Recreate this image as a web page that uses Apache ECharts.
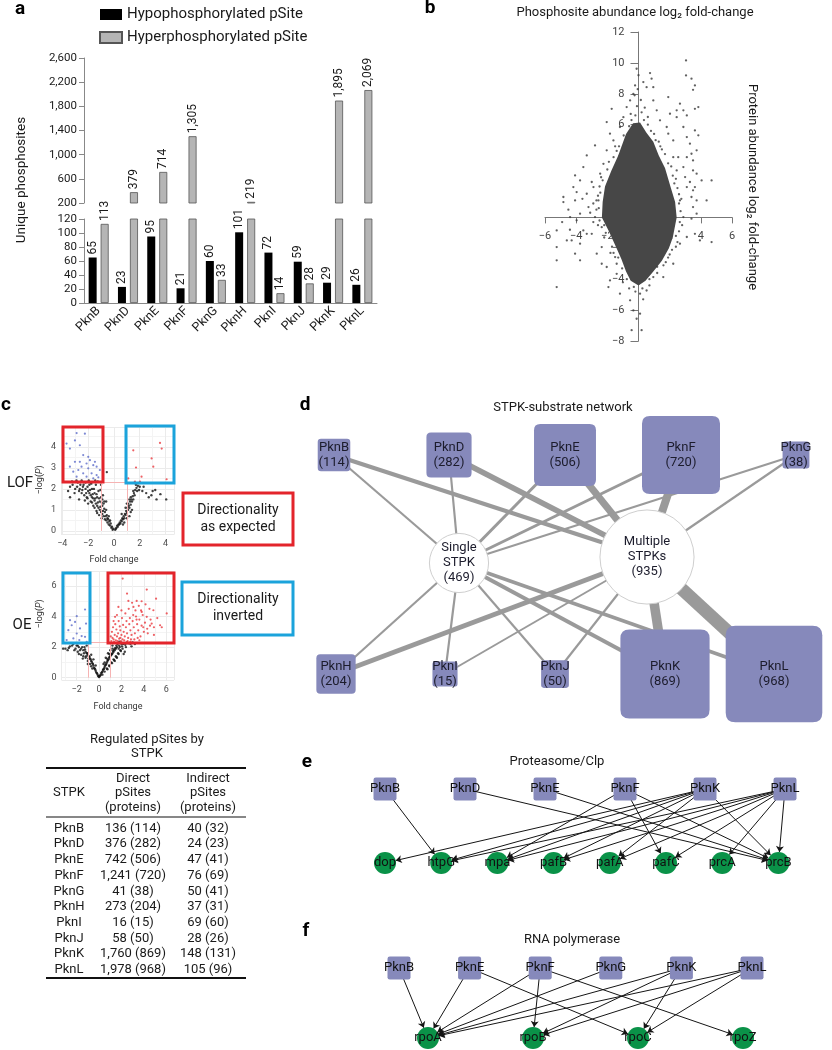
<!DOCTYPE html>
<html>
<head>
<meta charset="utf-8">
<script src="https://cdn.jsdelivr.net/npm/echarts@6/dist/echarts.min.js"></script>
<style>
  html, body { margin: 0; padding: 0; background: #fff; }
  #chart { width: 832px; height: 1050px; }
</style>
</head>
<body>
<div id="chart"></div>
<script>
// ---- panel a: regulated pSites per kinase
var kinases = ['PknB', 'PknD', 'PknE', 'PknF', 'PknG', 'PknH', 'PknI', 'PknJ', 'PknK', 'PknL'];
var hypoSites = [65, 23, 95, 21, 60, 101, 72, 59, 29, 26];
var hyperSites = [113, 379, 714, 1305, 33, 219, 14, 28, 1895, 2069];

// ---- panel b: dense core outline + scattered points (log2 FC)
var coreOutline = [[-0.35, 6.1], [0.1, 6.15], [0.5, 5.5], [0.95, 4.9], [1.3, 4.0], [1.7, 3.2], [2.05, 2.0], [2.35, 1.0],
  [2.45, 0], [2.2, -1.3], [1.95, -2.0], [1.5, -2.8], [0.95, -3.5], [0.45, -4.1], [0, -4.4], [-0.5, -4.1], [-0.8, -3.5],
  [-1.1, -2.7], [-1.45, -1.9], [-1.9, -0.9], [-2.35, 0], [-2.3, 1.0], [-2.15, 2.0], [-1.75, 3.0], [-1.3, 4.0], [-0.8, 5.4]];
var scatterPoints = [[3.05, 10.16], [3.05, 9.19], [3.4, 8.98], [3.62, 8.54], [3.5, 8.26], [-0.12, 9.62], [0, 9.2], [0.74, 9.34],
  [0.84, 8.98], [0.31, 8.76], [-0.22, 8.54], [-0.33, 8.0], [0.52, 8.43], [0.95, 8.43], [1.91, 7.79], [2.66, 7.36], [2.45, 6.93],
  [2.88, 6.93], [3.1, 6.6], [3.62, 7.03], [3.84, 7.14], [-1.72, 7.03], [-2.04, 6.17], [-1.83, 5.42], [-2.79, 4.66], [-3.32, 4.01],
  [-3.54, 3.26], [-4.07, 2.72], [-3.75, 2.39], [-4.18, 1.96], [-4.82, 1.32], [-4.82, 0.99], [-4.07, 1.1], [-3.97, 1.64],
  [-3.32, 1.53], [-2.89, 1.96], [-2.46, 2.83], [-2.57, 1.1], [-3.21, 0.67], [-3.75, 0.24], [-4.39, 0.02], [-5.25, -0.84],
  [-5.25, -1.92], [-5.25, -2.78], [-5.25, -4.51], [-4.6, -1.49], [-3.75, -1.7], [-3.75, -2.78], [-3.32, -1.06], [-2.68, -2.35],
  [-2.36, -1.92], [-2.04, -3.21], [-1.83, -4.08], [-1.93, -4.51], [-1.19, -4.94], [-0.54, -5.37], [-0.33, -6.02], [0.1, -6.23],
  [-0.44, -7.3], [0.2, -7.3], [-0.12, -6.56], [0.1, -4.94], [0.52, -4.73], [0.95, -3.86], [1.59, -3.86], [2.23, -3.0],
  [2.66, -1.7], [3.1, -1.27], [3.62, -1.06], [3.94, -1.49], [4.69, -1.6], [2.88, 0.02], [3.4, -0.08], [3.73, 0.24], [3.73, 1.1],
  [3.5, 1.75], [3.3, 2.29], [3.73, 2.83], [4.05, 2.39], [4.37, 1.1], [4.69, 2.39], [3.5, 3.69], [3.73, 4.34], [3.3, 4.77],
  [3.84, 5.31], [3.1, 5.2], [2.88, 5.85], [2.45, 6.49], [2.23, 4.98], [2.55, 3.9], [2.88, 3.26], [3.1, 1.96], [2.66, 1.1],
  [3.5, 0.67], [3.4, 1.32], [3.62, 1.96], [3.5, 3.04], [3.4, 4.12], [3.62, 5.63], [3.1, 3.9], [2.99, 2.61], [-2.36, -0.63],
  [-2.79, 0.02], [-3.0, -1.06], [-3.54, -0.84], [-3.97, -0.19], [-4.29, -1.49], [-4.07, -2.35], [-2.36, -3.0], [-1.5, -2.57],
  [-1.4, -3.65], [-3.0, 2.29], [-2.25, 3.47], [-2.04, 4.34], [-1.61, 4.98], [-1.19, 5.85], [-0.97, 6.49], [-0.76, 7.14],
  [-0.54, 7.57], [0.95, 7.57], [1.17, 6.93], [1.38, 6.28], [1.81, 5.85], [2.02, 6.71], [1.91, 5.42], [2.23, 3.9], [2.45, 3.04],
  [-0.2, 6.6], [0.2, 6.8], [-0.1, 7.2], [0.4, 7.1], [0.6, 6.5], [-0.5, 6.7], [0.15, 7.6], [-0.25, 7.9], [-0.05, 8.3],
  [0.3, -5.3], [-0.2, -4.8], [-0.6, -4.6], [0.7, -4.4], [-1.0, -4.2], [1.2, -3.2], [1.6, -3.1], [2.0, -2.4], [2.4, -1.9],
  [2.6, -0.9], [2.7, 0.4], [2.6, 1.5], [2.4, 2.5], [2.1, 3.3], [1.7, 4.1], [1.3, 4.9], [-1.5, 4.6], [-1.9, 3.6], [-2.4, 2.6],
  [-2.6, 1.4], [-2.7, 0.5], [-2.6, -0.5], [-2.2, -1.3], [-1.8, -2.3], [-1.4, -3.0], [-2.9, -0.3], [-3.1, 0.3], [-2.9, 0.9],
  [-4.9, -0.3], [-4.5, 0.5], [-3.6, 1.2], [-4.4, -0.8],
  [0.6, 6.0], [0.8, 5.6], [1.1, 5.0], [1.5, 4.4], [1.9, 3.5], [2.2, 2.7], [2.5, 1.9], [2.6, 0.9], [2.65, -0.3], [2.4, -1.2],
  [2.15, -2.1], [1.75, -2.9], [1.2, -3.6], [0.7, -4.0], [0.25, -4.6], [-0.3, -4.5], [-0.75, -4.0], [-1.05, -3.3],
  [-1.3, -2.6], [-1.7, -1.9], [-2.1, -1.0], [-2.5, -0.2], [-2.55, 0.6], [-2.45, 1.6], [-2.3, 2.4], [-2.0, 3.1], [-1.6, 3.9],
  [-1.25, 4.6], [-0.95, 5.3], [-0.6, 5.9], [-0.45, 6.3], [0.35, 6.3], [1.0, 5.4], [1.4, 4.6], [2.3, 2.2], [2.75, 1.2],
  [2.8, -0.5], [2.5, -1.6], [1.9, -2.6], [-1.6, -2.3], [-2.2, -0.5], [-2.7, 1.1], [-2.5, 2.0], [-1.4, 4.3]];

// ---- panel c: volcano plots (fold change, -log P)
var lofOther = [[-0.1, 0.05], [-0.2, 0.15], [-0.3, 0.25], [-0.4, 0.3], [-0.5, 0.4], [-0.6, 0.5], [-0.7, 0.55], [-0.8, 0.7],
  [-0.9, 0.8], [-1.0, 0.9], [-1.1, 1.0], [-1.2, 1.1], [-1.3, 1.2], [-1.4, 1.3], [-1.5, 1.45], [-1.6, 1.55], [-1.7, 1.6],
  [-1.8, 1.7], [-1.9, 1.8], [-2.0, 1.9], [-2.2, 2.0], [-2.4, 2.1], [-2.6, 2.2], [-2.8, 2.3], [-0.5, 0.6], [-0.7, 0.9],
  [-0.9, 1.2], [-1.1, 1.4], [-1.3, 1.6], [-1.5, 1.8], [-1.7, 2.0], [-1.9, 2.2], [-2.1, 1.6], [-2.3, 1.7], [-2.5, 1.8],
  [-2.7, 1.9], [-3.0, 2.0], [-3.2, 2.2], [-1.2, 1.9], [-1.4, 2.2], [-1.0, 1.6], [-0.8, 1.3], [-0.6, 1.0], [-0.4, 0.7],
  [-1.6, 1.2], [-1.8, 1.4], [-2.0, 1.3], [-2.2, 2.3], [-2.5, 2.4], [-1.0, 2.2], [-0.6, 1.4], [-0.3, 0.5], [-1.8, 2.3],
  [-2.9, 2.4], [-3.4, 2.1], [-0.55, 2.8], [-1.15, 0.75], [-1.35, 0.95], [-0.95, 0.6], [-2.7, 1.5], [-3.4, 1.6],
  [-0.35, 0.45], [-0.45, 0.55], [-0.55, 0.75], [-0.65, 0.7], [-0.75, 1.05], [-0.85, 0.95], [-0.95, 1.35], [-1.05, 1.15],
  [-1.15, 1.55], [-1.25, 1.35], [-1.35, 1.75], [-1.45, 1.55], [-1.55, 2.0], [-1.65, 1.75], [-1.75, 2.25], [-1.85, 1.95],
  [-1.95, 2.4], [-2.05, 2.1], [-2.15, 1.8], [-2.35, 2.2], [-2.45, 1.95], [-2.65, 2.0], [-2.85, 2.1], [-3.05, 1.8],
  [-3.25, 2.35], [-3.55, 1.9], [-0.25, 0.35], [-0.15, 0.2], [-0.05, 0.1], [-1.05, 1.95], [-1.25, 2.35], [-0.85, 1.7],
  [-0.75, 1.4], [-1.45, 2.4], [-2.05, 1.55], [-2.25, 1.45], [-1.7, 1.35], [-1.5, 1.1], [-1.3, 0.85], [-0.9, 1.5],
  [0.1, 0.05], [0.2, 0.15], [0.3, 0.2], [0.4, 0.3], [0.5, 0.35], [0.6, 0.45], [0.7, 0.55], [0.8, 0.6], [0.9, 0.75],
  [1.0, 0.85], [1.1, 1.0], [1.2, 1.1], [1.3, 1.25], [1.4, 1.4], [1.5, 1.5], [1.6, 1.7], [1.8, 1.9], [2.0, 2.1], [0.9, 1.1],
  [1.1, 1.3], [1.3, 1.6], [1.5, 1.9], [1.7, 2.2], [2.2, 1.9], [2.5, 1.8], [2.9, 1.7], [3.3, 1.5], [3.6, 1.75], [1.2, 0.7],
  [0.7, 0.3], [1.4, 1.0], [2.0, 2.3], [0.6, 0.8], [1.0, 1.3], [1.2, 1.5], [3.2, 1.95], [4.05, 1.5],
  [0.15, 0.1], [0.25, 0.25], [0.35, 0.3], [0.45, 0.4], [0.55, 0.5], [0.65, 0.6], [0.75, 0.7], [0.85, 0.8], [0.95, 0.95],
  [1.05, 1.1], [1.15, 1.2], [1.25, 1.4], [1.35, 1.5], [1.45, 1.65], [1.55, 1.8], [1.65, 1.95], [1.75, 2.05], [1.85, 2.15],
  [1.95, 1.95], [2.3, 2.1], [2.7, 1.6], [3.0, 1.9], [1.6, 2.3], [0.8, 0.4], [1.0, 0.6], [1.3, 0.9]];
var lofDown = [[-2.89, 4.66], [-2.25, 4.63], [-3.67, 4.16], [-3.41, 3.92], [-3.02, 4.31], [-2.64, 4.08], [-2.38, 3.61],
  [-1.99, 3.53], [-1.86, 3.37], [-2.64, 3.29], [-2.12, 3.21], [-1.6, 3.13], [-1.34, 3.06], [-1.09, 2.9], [-3.41, 3.06],
  [-3.15, 2.82], [-2.76, 2.9], [-2.38, 2.74], [-1.73, 2.74], [-1.34, 2.66], [-2.89, 2.58], [-2.12, 2.58], [-1.6, 2.5],
  [-1.21, 2.55], [-2.51, 3.06], [-1.99, 2.98], [-1.47, 3.29], [-3.02, 3.29]];
var lofUp = [[3.57, 4.19], [3.7, 3.92], [1.5, 3.84], [2.92, 3.45], [3.05, 3.06], [1.71, 3.02], [2.14, 2.58], [2.02, 2.35],
  [1.63, 2.35], [4.08, 2.46], [1.11, 2.5]];
var oeOther = [[0, 0.05], [-0.1, 0.15], [-0.2, 0.3], [-0.3, 0.45], [-0.4, 0.6], [-0.5, 0.8], [-0.6, 0.95], [-0.7, 1.1],
  [-0.8, 1.25], [-0.9, 1.4], [-1.0, 1.5], [-1.1, 1.6], [-1.2, 1.7], [-1.4, 1.8], [-1.6, 1.9], [-1.8, 2.0], [-2.0, 2.1],
  [-2.3, 2.2], [-2.6, 2.05], [-3.0, 1.9], [-0.6, 0.6], [-0.8, 0.9], [-1.0, 1.1], [-1.2, 1.3], [-1.4, 1.4], [-1.6, 1.5],
  [-1.3, 2.0], [-1.1, 2.1], [-0.5, 1.2], [-0.3, 0.8], [-1.9, 1.7], [-2.2, 1.8], [-0.7, 1.5], [-3.2, 1.9], [-2.8, 1.8],
  [-0.05, 0.1], [-0.15, 0.25], [-0.25, 0.35], [-0.35, 0.55], [-0.45, 0.65], [-0.55, 0.9], [-0.65, 1.05], [-0.75, 1.2],
  [-0.85, 1.35], [-0.95, 1.25], [-1.05, 1.6], [-1.15, 1.4], [-1.25, 1.85], [-1.35, 1.6], [-1.5, 2.0], [-1.7, 1.8],
  [-1.9, 2.1], [-2.1, 1.9], [-2.4, 2.1], [-2.7, 1.95], [-1.8, 1.55], [-1.45, 1.25], [-1.0, 0.9], [-0.7, 0.75],
  [0.1, 0.15], [0.2, 0.3], [0.3, 0.4], [0.4, 0.55], [0.5, 0.7], [0.6, 0.85], [0.7, 1.0], [0.8, 1.15], [0.9, 1.3], [1.0, 1.4],
  [1.1, 1.5], [1.2, 1.6], [1.3, 1.7], [1.4, 1.8], [1.5, 1.9], [1.6, 2.0], [1.8, 2.1], [2.0, 2.2], [2.2, 2.25], [2.5, 2.3],
  [0.5, 0.4], [0.7, 0.6], [0.9, 0.8], [1.1, 1.0], [1.3, 1.2], [1.5, 1.4], [1.7, 1.6], [1.9, 1.8], [2.1, 1.9], [1.0, 1.8],
  [1.2, 2.1], [0.8, 1.6], [0.6, 1.3], [2.4, 2.0], [2.8, 2.2], [1.6, 1.3], [1.4, 1.1], [0.3, 0.2], [3.0, 2.3], [1.8, 2.35],
  [0.4, 0.9], [2.3, 1.7],
  [0.05, 0.1], [0.15, 0.2], [0.25, 0.35], [0.35, 0.5], [0.45, 0.6], [0.55, 0.8], [0.65, 0.9], [0.75, 1.1], [0.85, 1.2],
  [0.95, 1.35], [1.05, 1.5], [1.15, 1.55], [1.25, 1.75], [1.35, 1.85], [1.45, 1.95], [1.55, 2.1], [1.65, 2.2], [1.75, 1.9],
  [1.85, 2.0], [1.95, 2.3], [2.05, 2.05], [2.15, 2.2], [2.35, 2.15], [2.6, 2.25], [2.9, 2.05], [3.2, 2.2], [0.75, 0.55],
  [0.95, 0.75], [1.15, 0.95], [1.35, 1.15], [1.55, 1.35], [1.75, 1.55], [1.95, 1.75], [2.2, 1.55], [1.2, 1.9], [0.9, 1.55],
  [0.7, 1.25], [0.5, 1.0]];
var oeDown = [[-1.25, 4.46], [-1.99, 4.02], [-2.59, 3.76], [-2.14, 3.65], [-2.44, 3.43], [-1.16, 3.54], [-1.7, 3.22],
  [-2.74, 3.11], [-1.99, 2.89], [-1.55, 2.72], [-1.25, 2.67], [-2.29, 2.57], [-2.89, 2.46], [-1.76, 2.46], [-1.1, 2.35]];
var oeUp = [[2.11, 6.48], [4.26, 5.76], [5.09, 5.17], [6.04, 4.2], [5.45, 3.43], [4.7, 3.54], [2.62, 5.02], [3.36, 5.02],
  [3.07, 4.63], [1.73, 4.63], [1.43, 3.98], [3.81, 4.3], [4.26, 3.98], [4.85, 4.41], [1.1, 2.4], [1.2, 2.6], [1.3, 2.5],
  [1.4, 2.8], [1.5, 2.45], [1.6, 2.7], [1.7, 2.9], [1.8, 2.55], [1.9, 3.1], [2.0, 2.8], [2.1, 2.5], [2.2, 3.0], [2.3, 2.7],
  [2.4, 3.3], [2.5, 2.9], [2.6, 2.6], [2.7, 3.5], [2.8, 3.1], [2.9, 2.8], [3.0, 3.7], [3.1, 3.3], [3.2, 2.9], [3.3, 4.0],
  [3.4, 3.5], [3.5, 3.1], [3.6, 3.8], [3.7, 2.7], [3.8, 3.4], [3.9, 4.1], [4.0, 3.0], [4.1, 3.6], [4.3, 3.2], [4.5, 4.5],
  [4.6, 3.8], [4.9, 3.3], [5.2, 3.9], [5.6, 3.3], [1.15, 3.0], [1.25, 3.3], [1.35, 2.35], [1.45, 3.5], [1.55, 3.15],
  [1.65, 2.4], [1.75, 3.7], [1.85, 3.35], [1.95, 2.4], [2.05, 3.9], [2.15, 3.45], [2.25, 2.45], [2.35, 4.2], [2.45, 3.7],
  [2.55, 2.4], [2.65, 4.5], [2.75, 3.9], [2.85, 2.5], [2.95, 4.9], [3.05, 4.1], [3.15, 2.5], [3.25, 4.4], [3.35, 3.8],
  [3.45, 2.6], [3.55, 4.7], [3.75, 4.4], [3.95, 3.3], [4.15, 4.8], [4.35, 2.9], [4.55, 3.4], [2.0, 4.4], [1.6, 4.1],
  [1.3, 3.7], [2.5, 5.5], [3.8, 5.0], [1.05, 2.7], [1.9, 2.6], [2.8, 2.35], [3.6, 2.45], [4.9, 2.8]];
var foldCut = 1;
var pCut = 2.3;

// ---- panel c table
var directSites = [136, 376, 742, 1241, 41, 273, 16, 58, 1760, 1978];
var directProteins = [114, 282, 506, 720, 38, 204, 15, 50, 869, 968];
var indirectSites = [40, 24, 47, 76, 50, 37, 69, 28, 148, 105];
var indirectProteins = [32, 23, 41, 69, 41, 31, 60, 26, 131, 96];

// ---- panel d: network
var hubLabels = ['Single\nSTPK', 'Multiple\nSTPKs'];
var hubCounts = [469, 935];
var singleLinkWeights = [40, 40, 90, 90, 30, 40, 40, 40, 150, 120];
var multiLinkWeights = [150, 240, 330, 390, 40, 210, 30, 40, 480, 690];

// ---- panels e, f
var clpKinases = ['PknB', 'PknD', 'PknE', 'PknF', 'PknK', 'PknL'];
var clpTargets = ['dop', 'htpG', 'mpa', 'pafB', 'pafA', 'pafC', 'prcA', 'prcB'];
var clpLinks = [['PknB', 'htpG'], ['PknD', 'prcB'], ['PknE', 'prcB'], ['PknF', 'mpa'], ['PknF', 'pafC'], ['PknF', 'prcB'],
  ['PknK', 'dop'], ['PknK', 'htpG'], ['PknK', 'mpa'], ['PknK', 'pafB'], ['PknK', 'pafA'], ['PknK', 'prcB'],
  ['PknL', 'htpG'], ['PknL', 'mpa'], ['PknL', 'pafB'], ['PknL', 'pafA'], ['PknL', 'pafC'], ['PknL', 'prcA'], ['PknL', 'prcB']];
var rnapKinases = ['PknB', 'PknE', 'PknF', 'PknG', 'PknK', 'PknL'];
var rnapTargets = ['rpoA', 'rpoB', 'rpoC', 'rpoZ'];
var rnapLinks = [['PknB', 'rpoA'], ['PknE', 'rpoA'], ['PknE', 'rpoC'], ['PknF', 'rpoA'], ['PknF', 'rpoB'], ['PknF', 'rpoZ'],
  ['PknG', 'rpoA'], ['PknK', 'rpoA'], ['PknK', 'rpoB'], ['PknK', 'rpoC'], ['PknL', 'rpoA'], ['PknL', 'rpoB'], ['PknL', 'rpoC']];

// ---- layout (pixels)
var netTopX = [334, 449, 565, 681, 796], netTopY = 455;
var netBottomX = [336, 445, 555, 665, 774], netBottomY = 674;
var hubXY = [[459, 563], [647, 557]];
var clpRow = { topY: 789, bottomY: 863, topX: 385, topStep: 80, bottomX: 385, bottomStep: 56.2 };
var rnapRow = { topY: 968, bottomY: 1038, topX: 399, topStep: 70.6, bottomX: 428, bottomStep: 105 };
var scatterGrid = { left: 545, top: 32, width: 187, height: 309 };

var FONT = 'Roboto, "Noto Sans", sans-serif';
var PURPLE = '#8689bb';
var GREEN = '#0a9248';
var RED = '#e3242b';
var BLUE = '#1ba3db';
var roundBox = 'path://M10,0L90,0Q100,0,100,10L100,90Q100,100,90,100L10,100Q0,100,0,90L0,10Q0,0,10,0Z';

function fmt(v) { return Number(v).toLocaleString('en-US'); }
function minus(v) { return String(v).replace('-', '\u2212'); }
function nodeSize(n) { return 24 + n * 0.075; }

function txt(text, x, y, o) {
  o = o || {};
  return {
    type: 'text', x: x, y: y, rotation: o.rotation || 0, silent: true, z: 10,
    style: {
      text: text, fill: o.color || '#1a1a1a', fontSize: o.size || 13, fontFamily: FONT,
      fontWeight: o.weight || 'normal', lineHeight: o.lineHeight || Math.round((o.size || 13) * 1.2),
      align: o.align || 'center', textAlign: o.align || 'center',
      verticalAlign: o.valign || 'middle', textVerticalAlign: o.valign || 'middle', rich: o.rich
    }
  };
}
function box(x, y, w, h, color) {
  return { type: 'rect', shape: { x: x, y: y, width: w, height: h }, silent: true, z: 10,
    style: { fill: 'none', stroke: color, lineWidth: 3 } };
}
function hline(x1, x2, y, w) {
  return { type: 'line', shape: { x1: x1, y1: y, x2: x2, y2: y }, silent: true, z: 10,
    style: { stroke: '#111', lineWidth: w } };
}

// ---- graph helpers
function graphBox(nodes) {
  var xs = nodes.map(function (n) { return n.x; });
  var ys = nodes.map(function (n) { return n.y; });
  var x0 = Math.min.apply(null, xs), y0 = Math.min.apply(null, ys);
  return { left: x0, top: y0, width: Math.max.apply(null, xs) - x0, height: Math.max.apply(null, ys) - y0 };
}

var dNodes = kinases.map(function (k, i) {
  var x = i < 5 ? netTopX[i] : netBottomX[i - 5];
  var y = i < 5 ? netTopY : netBottomY;
  return {
    name: k, x: x, y: y, symbol: roundBox, symbolSize: nodeSize(directProteins[i]),
    itemStyle: { color: PURPLE },
    label: { formatter: k + '\n(' + directProteins[i] + ')' }
  };
});
hubLabels.forEach(function (h, i) {
  dNodes.push({
    name: 'hub' + i, x: hubXY[i][0], y: hubXY[i][1], symbol: 'circle', symbolSize: nodeSize(hubCounts[i]),
    itemStyle: { color: '#fff', borderColor: '#cfcfcf', borderWidth: 1 },
    label: { formatter: h + '\n(' + hubCounts[i] + ')' }
  });
});
var dLinks = [];
kinases.forEach(function (k, i) {
  dLinks.push({ source: k, target: 'hub0', lineStyle: { width: 1.5 + singleLinkWeights[i] / 60 } });
  dLinks.push({ source: k, target: 'hub1', lineStyle: { width: 1.5 + multiLinkWeights[i] / 60 } });
});

function bipartite(kin, tgt, row) {
  var nodes = kin.map(function (k, i) {
    return { name: k, x: row.topX + i * row.topStep, y: row.topY, symbol: roundBox, symbolSize: 23,
      itemStyle: { color: PURPLE } };
  });
  tgt.forEach(function (t, j) {
    nodes.push({ name: t, x: row.bottomX + j * row.bottomStep, y: row.bottomY, symbol: 'circle', symbolSize: 22,
      itemStyle: { color: GREEN } });
  });
  return nodes;
}
var eNodes = bipartite(clpKinases, clpTargets, clpRow);
var fNodes = bipartite(rnapKinases, rnapTargets, rnapRow);

function arrowGraph(nodes, links) {
  return Object.assign({
    type: 'graph', layout: 'none', roam: false, silent: true,
    data: nodes,
    links: links.map(function (l) { return { source: l[0], target: l[1] }; }),
    edgeSymbol: ['none', 'arrow'], edgeSymbolSize: [4, 6],
    lineStyle: { color: '#151515', width: 1, opacity: 1, curveness: 0 },
    label: { show: true, position: 'inside', color: '#111', fontSize: 13, fontFamily: FONT }
  }, graphBox(nodes));
}

// ---- bar helpers
function barSeries(name, values, axis, color, border, upper) {
  return {
    type: 'bar', name: name, xAxisIndex: axis, yAxisIndex: axis, data: values,
    barWidth: 8, barGap: '50%', clip: true, silent: true,
    itemStyle: { color: color, borderColor: border, borderWidth: border ? 0.8 : 0 },
    label: {
      show: true, position: 'top', rotate: 90, align: 'left', verticalAlign: 'middle', distance: 3,
      fontSize: 12, color: '#1a1a1a', fontFamily: FONT,
      formatter: function (p) {
        var keep = upper ? p.value > 120 : p.value <= 120;
        return keep ? fmt(p.value) : '';
      }
    }
  };
}

function volcanoAxisLabel(margin) {
  return {
    fontSize: 9, color: '#4d4d4d', margin: margin, showMinLabel: false, showMaxLabel: false,
    formatter: function (v) { return Number.isInteger(v) ? minus(v) : ''; }
  };
}
function volcanoX(grid, min, max) {
  return {
    type: 'value', gridIndex: grid, min: min, max: max, splitNumber: 5,
    axisLine: { show: false }, axisTick: { show: false }, axisLabel: volcanoAxisLabel(5),
    splitLine: { show: true, lineStyle: { color: '#ebebeb' } },
    minorTick: { show: false, splitNumber: 2 }, minorSplitLine: { show: true, lineStyle: { color: '#f4f4f4' } }
  };
}
function volcanoY(grid, min, max, split) {
  var a = volcanoX(grid, min, max);
  a.splitNumber = split;
  a.axisLabel = volcanoAxisLabel(5);
  return a;
}
function volcanoSeries(idx, other, down, up) {
  var pts = { type: 'scatter', xAxisIndex: idx, yAxisIndex: idx, symbolSize: 2.2, silent: true };
  return [
    Object.assign({}, pts, {
      data: other, symbolSize: 2.4, itemStyle: { color: '#111' },
      markLine: {
        silent: true, symbol: 'none', label: { show: false },
        lineStyle: { color: '#f6b3b3', type: 'solid', width: 1 },
        data: [
          [{ coord: [-foldCut, 0] }, { coord: [-foldCut, pCut] }],
          [{ coord: [foldCut, 0] }, { coord: [foldCut, pCut] }],
          [{ coord: [-foldCut, pCut] }, { coord: [foldCut, pCut] }]
        ]
      }
    }),
    Object.assign({}, pts, { data: down, itemStyle: { color: '#5d6cc9' } }),
    Object.assign({}, pts, { data: up, itemStyle: { color: '#ea3a3e' } })
  ];
}

// axes of panel b cross at the origin: shift them with offset
var bX = [-6, 6], bY = [-8, 12];
var zeroRowOffset = scatterGrid.height * (bY[1] / (bY[1] - bY[0])) - scatterGrid.height;
var zeroColOffset = -scatterGrid.width * (-bX[0] / (bX[1] - bX[0]));

// ---- graphic: text, boxes, table
var graphics = [];
[['a', 20, 9], ['b', 430, 8], ['c', 6, 405], ['d', 305, 405], ['e', 307, 762], ['f', 306, 931]].forEach(function (l) {
  graphics.push(txt(l[0], l[1], l[2], { size: 19, weight: 'bold', color: '#000' }));
});
graphics.push(txt('Unique phosphosites', 22, 180, { rotation: Math.PI / 2, size: 13.5 }));
graphics.push(txt('Phosphosite abundance log\u2082 fold-change', 635, 13, { size: 13 }));
graphics.push(txt('Protein abundance log\u2082 fold-change', 752, 187, { rotation: -Math.PI / 2, size: 13 }));

graphics.push(txt('LOF', 20, 483, { size: 15 }));
graphics.push(txt('OE', 22, 625, { size: 15 }));
var italicP = { i: { fontStyle: 'italic', fontSize: 9, fontFamily: FONT, fill: '#333' } };
graphics.push(txt('\u2212log({i|P})', 40, 480, { rotation: Math.PI / 2, size: 9, color: '#333', rich: italicP }));
graphics.push(txt('\u2212log({i|P})', 40, 614, { rotation: Math.PI / 2, size: 9, color: '#333', rich: italicP }));
graphics.push(txt('Fold change', 114, 560, { size: 9, color: '#333' }));
graphics.push(txt('Fold change', 118, 707, { size: 9, color: '#333' }));
graphics.push(box(63, 427, 40, 55, RED));
graphics.push(box(126, 426, 48, 57, BLUE));
graphics.push(box(63, 573, 27, 70, BLUE));
graphics.push(box(108, 573, 66, 70, RED));
graphics.push(box(183, 493, 110, 52, RED));
graphics.push(box(182, 582, 111, 53, BLUE));
graphics.push(txt('Directionality\nas expected', 238, 519, { size: 14, lineHeight: 17 }));
graphics.push(txt('Directionality\ninverted', 238, 608, { size: 14, lineHeight: 17 }));

graphics.push(txt('Regulated pSites by\nSTPK', 147, 747, { size: 13, lineHeight: 14 }));
graphics.push(hline(46, 246, 768, 2));
graphics.push(hline(46, 246, 817, 1.2));
graphics.push(hline(46, 246, 978, 2));
graphics.push(txt('STPK', 69, 793, { size: 13 }));
graphics.push(txt('Direct\npSites\n(proteins)', 133, 793, { size: 13, lineHeight: 14.5 }));
graphics.push(txt('Indirect\npSites\n(proteins)', 208, 793, { size: 13, lineHeight: 14.5 }));
kinases.forEach(function (k, i) {
  var y = 828.5 + i * 15.7;
  graphics.push(txt(k, 69, y, { size: 13 }));
  graphics.push(txt(fmt(directSites[i]) + ' (' + directProteins[i] + ')', 133, y, { size: 13 }));
  graphics.push(txt(fmt(indirectSites[i]) + ' (' + indirectProteins[i] + ')', 208, y, { size: 13 }));
});

graphics.push(txt('STPK-substrate network', 563, 408, { size: 13 }));
graphics.push(txt('Proteasome/Clp', 557, 762, { size: 13 }));
graphics.push(txt('RNA polymerase', 572, 940, { size: 13 }));

var hypoName = 'Hypophosphorylated pSite';
var hyperName = 'Hyperphosphorylated pSite';

var option = {
  animation: false,
  backgroundColor: '#fff',
  textStyle: { fontFamily: FONT },
  legend: {
    left: 99, top: 7, orient: 'vertical', padding: 0, itemWidth: 22, itemHeight: 11, itemGap: 8,
    selectedMode: false, icon: 'rect',
    textStyle: { fontSize: 15, color: '#1a1a1a', fontFamily: FONT },
    data: [hypoName, hyperName]
  },
  grid: [
    { left: 84, top: 58, width: 293, height: 145, outerBoundsMode: 'none' },
    { left: 84, top: 219, width: 293, height: 84, outerBoundsMode: 'none' },
    Object.assign({ outerBoundsMode: 'none' }, scatterGrid),
    { left: 61, top: 427, width: 113.6, height: 107, outerBoundsMode: 'none' },
    { left: 61.5, top: 571.4, width: 112.6, height: 108.6, outerBoundsMode: 'none' }
  ],
  xAxis: [
    { type: 'category', gridIndex: 0, data: kinases, show: false },
    {
      type: 'category', gridIndex: 1, data: kinases,
      axisLine: { lineStyle: { color: '#888' } },
      axisTick: { alignWithLabel: true, length: 5, lineStyle: { color: '#888' } },
      axisLabel: { rotate: 45, fontSize: 12.5, color: '#1a1a1a', margin: 6, interval: 0 }
    },
    {
      type: 'value', gridIndex: 2, min: bX[0], max: bX[1], interval: 2, position: 'bottom', offset: zeroRowOffset,
      axisLine: { onZero: false, lineStyle: { color: '#777' } },
      axisTick: { length: 6, lineStyle: { color: '#777' } },
      axisLabel: { fontSize: 11, color: '#444', margin: 13, formatter: function (v) { return v === 0 ? '' : minus(v); } },
      splitLine: { show: false }
    },
    volcanoX(3, -4.1, 4.7),
    volcanoX(4, -3.35, 6.7)
  ],
  yAxis: [
    {
      type: 'value', gridIndex: 0, min: 200, max: 2600, interval: 400,
      axisLine: { show: true, lineStyle: { color: '#888' } },
      axisTick: { show: true, length: 5, lineStyle: { color: '#888' } },
      axisLabel: { fontSize: 11.5, color: '#1a1a1a', margin: 7, formatter: fmt },
      splitLine: { show: false }
    },
    {
      type: 'value', gridIndex: 1, min: 0, max: 120, interval: 20,
      axisLine: { show: true, lineStyle: { color: '#888' } },
      axisTick: { show: true, length: 5, lineStyle: { color: '#888' } },
      axisLabel: { fontSize: 11.5, color: '#1a1a1a', margin: 7, formatter: fmt },
      splitLine: { show: false }
    },
    {
      type: 'value', gridIndex: 2, min: bY[0], max: bY[1], interval: 2, position: 'left', offset: zeroColOffset,
      axisLine: { show: true, onZero: false, lineStyle: { color: '#777' } },
      axisTick: { show: true, length: 8, lineStyle: { color: '#777' } },
      axisLabel: { fontSize: 11, color: '#444', margin: 14, formatter: function (v) { return v === 0 ? '' : minus(v); } },
      splitLine: { show: false }
    },
    volcanoY(3, -0.15, 4.95, 5),
    volcanoY(4, -0.15, 6.95, 4)
  ],
  graphic: graphics,
  series: [
    barSeries(hypoName, hypoSites, 0, '#000', null, true),
    barSeries(hyperName, hyperSites, 0, '#b5b5b5', '#555', true),
    barSeries(hypoName, hypoSites, 1, '#000', null, false),
    barSeries(hyperName, hyperSites, 1, '#b5b5b5', '#555', false),
    {
      type: 'custom', xAxisIndex: 2, yAxisIndex: 2, data: [0], silent: true, clip: true,
      renderItem: function (params, api) {
        return {
          type: 'polygon',
          shape: { points: coreOutline.map(function (p) { return api.coord(p); }) },
          style: { fill: '#474747' }
        };
      }
    },
    {
      type: 'scatter', xAxisIndex: 2, yAxisIndex: 2, data: scatterPoints, symbolSize: 2.3, silent: true,
      itemStyle: { color: '#3a3a3a' }
    }
  ].concat(volcanoSeries(3, lofOther, lofDown, lofUp))
   .concat(volcanoSeries(4, oeOther, oeDown, oeUp))
   .concat([
    Object.assign({
      type: 'graph', layout: 'none', roam: false, silent: true,
      data: dNodes, links: dLinks,
      lineStyle: { color: '#9a9a9a', opacity: 1, curveness: 0 },
      label: { show: true, position: 'inside', color: '#1c1c2c', fontSize: 13, lineHeight: 15, fontFamily: FONT }
    }, graphBox(dNodes)),
    arrowGraph(eNodes, clpLinks),
    arrowGraph(fNodes, rnapLinks)
  ])
};

var chart = echarts.init(document.getElementById('chart'), null, { renderer: 'canvas' });
chart.setOption(option);
</script>
</body>
</html>
